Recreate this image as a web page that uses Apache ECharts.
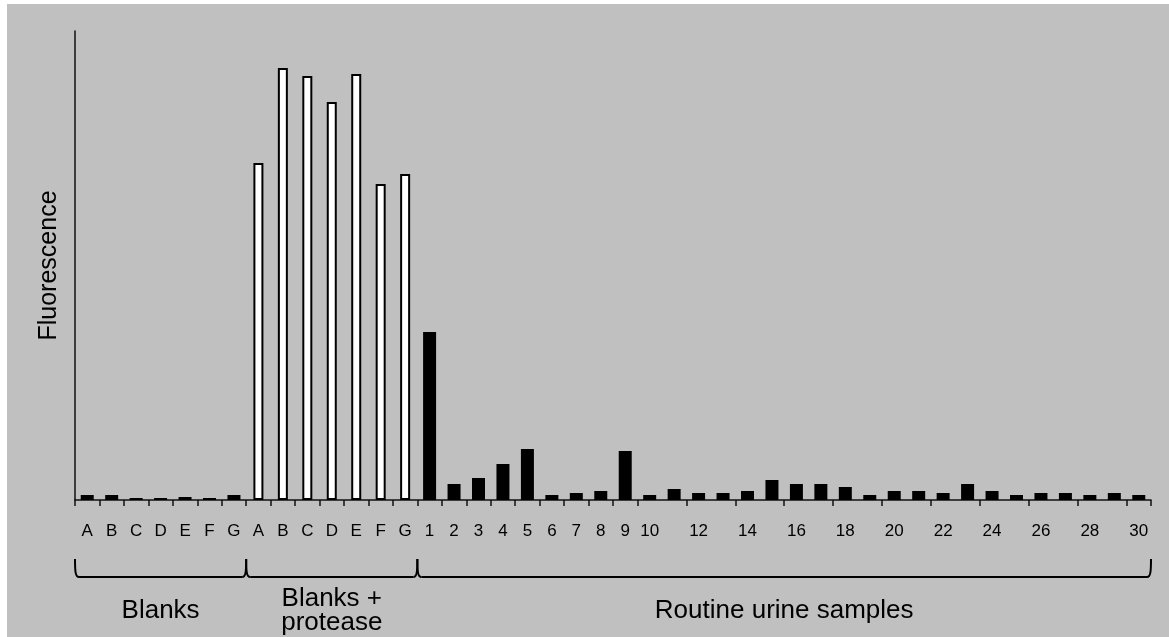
<!DOCTYPE html>
<html><head><meta charset="utf-8">
<script src="https://cdn.jsdelivr.net/npm/echarts@6/dist/echarts.min.js"></script>
<style>html,body{margin:0;padding:0;background:#fff;width:1169px;height:637px;overflow:hidden}#c{position:absolute;left:7px;top:4px;width:1162px;height:633px;background:#c0c0c0}</style>
</head><body><div id="c"></div>
<script>
const blankLabels = ['A','B','C','D','E','F','G'];
const proteaseLabels = ['A','B','C','D','E','F','G'];
const sampleLabels = ['1','2','3','4','5','6','7','8','9','10','11','12','13','14','15','16','17','18','19','20','21','22','23','24','25','26','27','28','29','30'];
const shownSampleLabels = ['1','2','3','4','5','6','7','8','9','10','12','14','16','18','20','22','24','26','28','30'];
const blankValues = [5,5,2,2,3,2,5];
const proteaseValues = [337,432,424,398,426,316,326];
const sampleValues = [168,16,22,36,51,5,7,9,49,5,11,7,7,9,20,16,16,13,5,9,9,7,16,9,5,7,7,5,7,5];
const groupNames = ['Blanks','Blanks +\nprotease','Routine urine samples'];
const yMax = 469;

const FONT = 'Liberation Sans, Arial, sans-serif';
const groups = [
  {labels: blankLabels, values: blankValues, key: 'b'},
  {labels: proteaseLabels, values: proteaseValues, key: 'p'},
  {labels: sampleLabels, values: sampleValues, key: 's'}
];
const categories = [], tickText = [], showTick = [], blackData = [], whiteData = [];
groups.forEach(g => {
  g.labels.forEach((l, i) => {
    categories.push(g.key + l);
    tickText.push(l);
    showTick.push(g.key !== 's' || shownSampleLabels.indexOf(l) >= 0);
    blackData.push(g.key === 'p' ? null : g.values[i]);
    whiteData.push(g.key === 'p' ? g.values[i] : null);
  });
});

const chart = echarts.init(document.getElementById('c'));
chart.setOption({
  animation: false,
  grid: {left: 68, right: 18, top: 27, bottom: 137},
  xAxis: [{
    type: 'category', data: categories,
    axisLine: {lineStyle: {color: '#111', width: 1.5}},
    axisTick: {show: true, length: 6, lineStyle: {color: '#111', width: 1.5}},
    axisLabel: {
      interval: (idx) => showTick[idx],
      formatter: (v, idx) => tickText[idx],
      color: '#000', fontSize: 17, fontFamily: FONT, margin: 23
    }
  }, {
    type: 'category', data: categories, show: false
  }],
  yAxis: {
    type: 'value', min: 0, max: yMax,
    name: 'Fluorescence', nameLocation: 'middle', nameGap: 13,
    nameTextStyle: {color: '#000', fontSize: 25, fontFamily: FONT},
    axisLine: {show: true, lineStyle: {color: '#111', width: 1.5}},
    axisTick: {show: false}, axisLabel: {show: false}, splitLine: {show: false}
  },
  series: [
    {type: 'bar', xAxisIndex: 0, data: blackData, barWidth: 13, itemStyle: {color: '#000'}},
    {type: 'bar', xAxisIndex: 1, data: whiteData, barWidth: 10, itemStyle: {color: '#fff', borderColor: '#000', borderWidth: 2}}
  ]
});

function px(i) { return chart.convertToPixel({xAxisIndex: 0}, i); }
const band = px(1) - px(0);
const edges = [];
let start = 0;
groups.forEach(g => {
  edges.push([px(start) - band / 2, px(start + g.labels.length - 1) + band / 2]);
  start += g.labels.length;
});
const yTop = 555, yBot = 573, r = 4;
const lineStyle = {fill: null, stroke: '#000', lineWidth: 2};
const graphics = [];
edges.forEach((e, k) => {
  const x0 = e[0], x1 = e[1];
  graphics.push({
    type: 'bezierCurve',
    shape: {x1: x0, y1: yTop, cpx1: x0, cpy1: yBot - 5, cpx2: x0 + 0.5, cpy2: yBot, x2: x0 + r, y2: yBot},
    style: lineStyle
  });
  graphics.push({
    type: 'line',
    shape: {x1: x0 + r, y1: yBot, x2: x1 - r, y2: yBot},
    style: lineStyle
  });
  graphics.push({
    type: 'bezierCurve',
    shape: {x1: x1 - r, y1: yBot, cpx1: x1 - 0.5, cpy1: yBot, cpx2: x1, cpy2: yBot - 5, x2: x1, y2: yTop},
    style: lineStyle
  });
  graphics.push({
    type: 'text', x: (x0 + x1) / 2, y: 607,
    style: {text: groupNames[k], fill: '#000', font: '26px ' + FONT, align: 'center', verticalAlign: 'middle', lineHeight: 24}
  });
});
chart.setOption({graphic: graphics});
</script></body></html>
